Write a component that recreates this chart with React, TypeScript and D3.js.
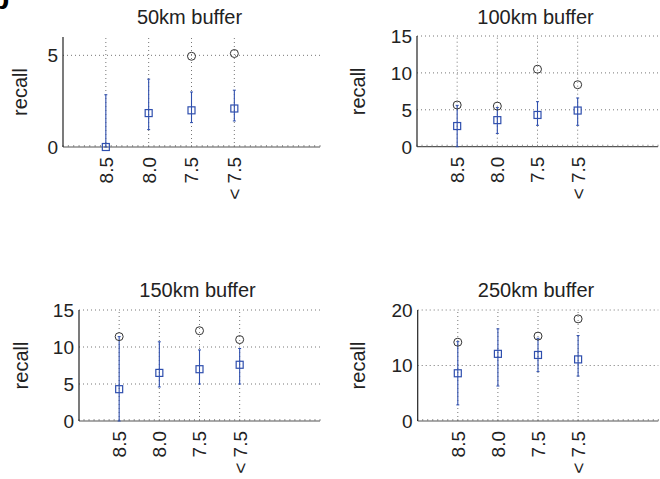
import { useEffect, useRef } from "react";
import * as d3 from "d3";

const titles = ["50km buffer", "100km buffer", "150km buffer", "250km buffer"];
const categories = ["8.5", "8.0", "7.5", "< 7.5"];
const yMaxes = [6, 15, 15, 20];
const yTicks = [[0, 5], [0, 5, 10, 15], [0, 5, 10, 15], [0, 10, 20]];

// blue squares with error bars
const medians = [
  [0, 1.85, 2.0, 2.1],
  [2.8, 3.6, 4.3, 4.9],
  [4.3, 6.5, 7.0, 7.6],
  [8.6, 12.1, 11.9, 11.1],
];
const lows = [
  [0, 0.95, 1.33, 1.42],
  [0, 1.8, 2.9, 2.9],
  [0, 4.6, 5.0, 5.0],
  [2.9, 6.3, 8.9, 8.1],
];
const highs = [
  [2.85, 3.7, 3.0, 3.1],
  [5.6, 5.3, 6.1, 6.6],
  [11.4, 10.7, 9.6, 9.8],
  [14.3, 16.6, 14.9, 15.4],
];
// black circles (null = not shown)
const circles = [
  [null, null, 4.95, 5.1],
  [5.65, 5.5, 10.5, 8.4],
  [11.4, null, 12.2, 11.0],
  [14.2, null, 15.3, 18.4],
];

const boxes = [
  { left: 63, right: 320, top: 37, bottom: 147, titleY: 24, labelX: 20 },
  { left: 417, right: 658, top: 36, bottom: 146.7, titleY: 24, labelX: 358 },
  { left: 79, right: 320, top: 310, bottom: 421, titleY: 297, labelX: 21 },
  { left: 417.7, right: 658.3, top: 310, bottom: 421, titleY: 297, labelX: 358 },
];

const font = "'Liberation Sans', Arial, sans-serif";
const blue = "#2f4fae";

export default function App() {
  const svgRef = useRef<SVGSVGElement>(null);

  useEffect(() => {
    const svg = d3.select(svgRef.current);
    svg.selectAll("*").remove();

    svg.append("text").attr("x", -9).attr("y", 9).attr("font-family", font)
      .attr("font-weight", "bold").attr("font-size", 30).text("b");

    boxes.forEach((b, p) => {
      const g = svg.append("g");
      const x = d3.scaleLinear().domain([0, 6]).range([b.left, b.right]);
      const y = d3.scaleLinear().domain([0, yMaxes[p]]).range([b.bottom, b.top]);
      const idx = categories.map((_, i) => i + 1);

      // grid
      g.selectAll(".vg").data(idx).join("line")
        .attr("x1", d => x(d)).attr("x2", d => x(d))
        .attr("y1", y(0)).attr("y2", b.top)
        .attr("stroke", "#666").attr("stroke-dasharray", "1,3").attr("stroke-width", 0.9);
      g.selectAll(".hg").data(yTicks[p].filter(t => t > 0)).join("line")
        .attr("x1", b.left).attr("x2", b.right)
        .attr("y1", d => y(d)).attr("y2", d => y(d))
        .attr("stroke", "#666").attr("stroke-dasharray", "1,3").attr("stroke-width", 0.9);

      // x axis with minor ticks
      g.append("line").attr("x1", b.left).attr("x2", b.right)
        .attr("y1", b.bottom).attr("y2", b.bottom).attr("stroke", "#555").attr("stroke-width", 1.2);
      g.selectAll(".mt").data(d3.range(0, 6.001, 0.125)).join("line")
        .attr("x1", d => x(d)).attr("x2", d => x(d))
        .attr("y1", b.bottom).attr("y2", b.bottom - 2)
        .attr("stroke", "#777").attr("stroke-width", 0.8);
      // y axis
      g.append("line").attr("x1", b.left).attr("x2", b.left)
        .attr("y1", b.top).attr("y2", b.bottom).attr("stroke", "#222").attr("stroke-width", 1.2);

      g.selectAll(".yl").data(yTicks[p]).join("text")
        .attr("x", b.left - 5).attr("y", d => y(d))
        .attr("dy", "0.36em").attr("text-anchor", "end")
        .attr("font-family", font).attr("font-size", 19).attr("fill", "#222")
        .text(d => d);

      g.selectAll(".xl").data(categories).join("text")
        .attr("transform", (_, i) => `translate(${x(i + 1)},${b.bottom + 10}) rotate(-90)`)
        .attr("dy", "0.36em").attr("text-anchor", "end")
        .attr("font-family", font).attr("font-size", 19).attr("fill", "#222")
        .text(d => d);

      g.append("text").attr("x", (b.left + b.right) / 2 - 2).attr("y", b.titleY)
        .attr("text-anchor", "middle").attr("font-family", font).attr("font-size", 20)
        .attr("fill", "#222").text(titles[p]);

      g.append("text")
        .attr("transform", `translate(${b.labelX},${(b.top + b.bottom) / 2}) rotate(-90)`)
        .attr("dy", "0.36em").attr("text-anchor", "middle")
        .attr("font-family", font).attr("font-size", 20).attr("fill", "#222").text("recall");

      // error bars
      g.selectAll(".eb").data(idx).join("line")
        .attr("x1", d => x(d)).attr("x2", d => x(d))
        .attr("y1", (_, i) => y(lows[p][i])).attr("y2", (_, i) => y(highs[p][i]))
        .attr("stroke", blue).attr("stroke-width", 1.1);
      ["lo", "hi"].forEach(k => {
        const arr = k === "lo" ? lows[p] : highs[p];
        g.selectAll(".cap" + k).data(idx).join("line")
          .attr("x1", d => x(d) - 1.5).attr("x2", d => x(d) + 1.5)
          .attr("y1", (_, i) => y(arr[i])).attr("y2", (_, i) => y(arr[i]))
          .attr("stroke", blue).attr("stroke-width", 1);
      });
      g.selectAll(".sq").data(idx).join("rect")
        .attr("x", d => x(d) - 3.5).attr("y", (_, i) => y(medians[p][i]) - 3.5)
        .attr("width", 7).attr("height", 7)
        .attr("fill", "none").attr("stroke", blue).attr("stroke-width", 1.2);

      const circ = circles[p].map((v, i) => ({ v, i })).filter(d => d.v !== null);
      g.selectAll(".ci").data(circ).join("circle")
        .attr("cx", d => x(d.i + 1)).attr("cy", d => y(d.v as number)).attr("r", 4)
        .attr("fill", "none").attr("stroke", "#333").attr("stroke-width", 1);
    });

    return () => {
      svg.selectAll("*").remove();
    };
  }, []);

  return (
    <svg ref={svgRef} width={660} height={479}
      style={{ position: "absolute", left: 0, top: 0, background: "#fff" }} />
  );
}
